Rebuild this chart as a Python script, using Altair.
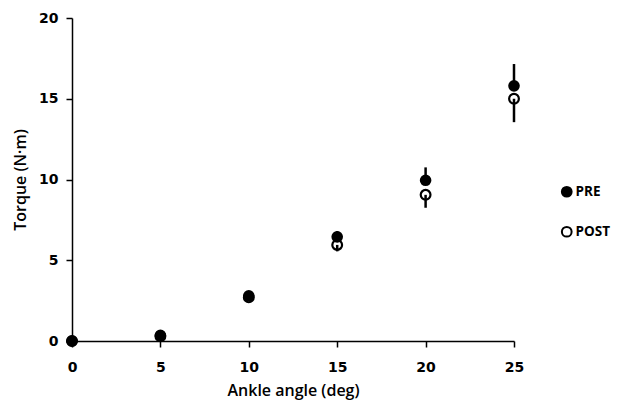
import altair as alt
import pandas as pd

angles = [0, 5, 10, 15, 20, 25]
pre_mean = [0.0, 0.35, 2.8, 6.45, 9.95, 15.8]
post_mean = [0.0, 0.3, 2.7, 5.95, 9.05, 15.0]
pre_sd = [0.0, 0.0, 0.0, 0.35, 0.8, 1.35]
post_sd = [0.0, 0.0, 0.0, 0.4, 0.8, 1.45]
groups = ["PRE", "POST"]

rows = []
for a, m, s in zip(angles, pre_mean, pre_sd):
    rows.append({"angle": a, "group": "PRE", "mean": m, "lo": m, "hi": m + s})
for a, m, s in zip(angles, post_mean, post_sd):
    rows.append({"angle": a, "group": "POST", "mean": m, "lo": m - s, "hi": m})
df = pd.DataFrame(rows)

x = alt.X("angle:Q", title="Ankle angle (deg)",
          scale=alt.Scale(domain=[0, 25], nice=False, zero=False),
          axis=alt.Axis(values=[0, 5, 10, 15, 20, 25], grid=False, labelFlush=False))
y = alt.Y("mean:Q", title="Torque (N·m)",
          scale=alt.Scale(domain=[0, 20], nice=False),
          axis=alt.Axis(values=[0, 5, 10, 15, 20], grid=False, labelFlush=False))

err = alt.Chart(df).mark_rule(color="black", strokeWidth=2.5).encode(
    x="angle:Q", y=alt.Y("lo:Q"), y2="hi:Q"
)

fill_scale = alt.Scale(domain=groups, range=["black", "white"])

post = alt.Chart(df).transform_filter("datum.group == 'POST'").mark_point(
    shape="circle", filled=False, size=95, stroke="black", strokeWidth=2.2,
    opacity=1, clip=False
).encode(x=x, y=y)

pre = alt.Chart(df).transform_filter("datum.group == 'PRE'").mark_point(
    shape="circle", filled=True, size=135, color="black", opacity=1, clip=False
).encode(x=x, y=y)

legend_pts = alt.Chart(df).mark_point(
    shape="circle", size=0, opacity=0
).encode(
    x=x, y=y,
    fill=alt.Fill("group:N", scale=fill_scale, title=None,
                  legend=alt.Legend(orient="none", legendX=488, legendY=167,
                                    symbolType="circle", symbolSize=95,
                                    symbolStrokeColor="black", symbolStrokeWidth=2,
                                    symbolOpacity=1, symbolFillColor="black",
                                    rowPadding=21, labelFontSize=13.5,
                                    labelFont="Open Sans", labelFontWeight="bold",
                                    labelColor="black", labelOffset=2)),
)

chart = alt.layer(legend_pts, post, err, pre).properties(
    width=442, height=323,
    autosize=alt.AutoSizeParams(type="none"),
    padding={"left": 64, "top": 10, "right": 100, "bottom": 62},
).configure_axis(
    domainColor="black", domainWidth=1.5, tickColor="black", tickWidth=1.5,
    tickSize=6, labelFont="DejaVu Sans", labelFontSize=14, labelColor="black",
    labelFontWeight="bold",
    titleFont="Open Sans", titleFontSize=16, titleFontWeight=600, titleColor="black",
).configure_axisX(labelPadding=13, titlePadding=8).configure_axisY(
    labelPadding=8, titlePadding=10
).configure_view(stroke=None)

chart.save("out.html", embed_options={"renderer": "svg", "actions": False})
